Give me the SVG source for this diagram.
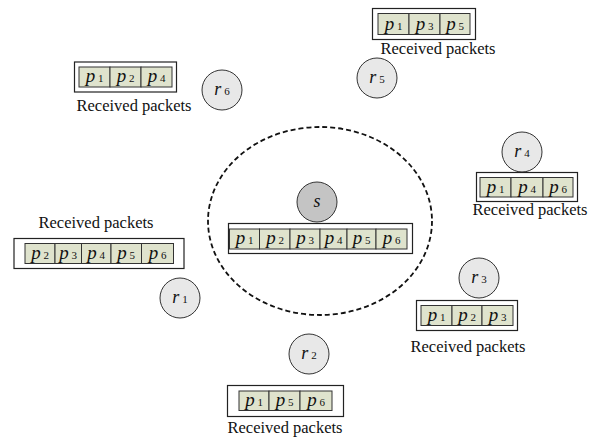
<svg xmlns="http://www.w3.org/2000/svg" width="591" height="439" viewBox="0 0 591 439">
<style>
.outer{fill:#fff;stroke:#222;stroke-width:1.2}
.cell{fill:#dfe3cd;stroke:#333;stroke-width:1}
.node{fill:#e8e8e8;stroke:#333;stroke-width:1}
.src{fill:#c4c4c4;stroke:#333;stroke-width:1}
.pk{font-family:"Liberation Serif",serif;font-size:19px;fill:#111;text-anchor:middle}
.it{font-style:italic}
.sub{font-size:11px;font-style:normal}
.lbl{font-family:"Liberation Serif",serif;font-size:16.5px;fill:#111;text-anchor:middle}
.nl{font-family:"Liberation Serif",serif;font-size:18px;fill:#111;text-anchor:middle}
.ring{fill:none;stroke:#111;stroke-width:1.8;stroke-dasharray:5 3}
</style>
<rect width="591" height="439" fill="#fff"/>
<g id="connectors"/>
<g id="range">
<ellipse class="ring" cx="320" cy="221" rx="112" ry="94"/>
</g>
<g id="s">
<circle class="src" cx="317" cy="202" r="20"/>
<text class="nl it" x="317" y="207">s</text>
<rect class="outer" x="228.5" y="223.5" width="184" height="30"/>
<rect class="cell" x="229.5" y="229" width="30" height="20"/>
<rect class="cell" x="259.5" y="229" width="30.5" height="20"/>
<rect class="cell" x="290" y="229" width="30" height="20"/>
<rect class="cell" x="320" y="229" width="27" height="20"/>
<rect class="cell" x="347" y="229" width="29" height="20"/>
<rect class="cell" x="376" y="229" width="31" height="20"/>
<text class="pk" x="244.5" y="244"><tspan class="it">p</tspan><tspan class="sub"> 1</tspan></text>
<text class="pk" x="275" y="244"><tspan class="it">p</tspan><tspan class="sub"> 2</tspan></text>
<text class="pk" x="305" y="244"><tspan class="it">p</tspan><tspan class="sub"> 3</tspan></text>
<text class="pk" x="333.5" y="244"><tspan class="it">p</tspan><tspan class="sub"> 4</tspan></text>
<text class="pk" x="361.5" y="244"><tspan class="it">p</tspan><tspan class="sub"> 5</tspan></text>
<text class="pk" x="391.5" y="244"><tspan class="it">p</tspan><tspan class="sub"> 6</tspan></text>
</g>
<g id="r5">
<rect class="outer" x="372.5" y="8.5" width="103" height="31"/>
<rect class="cell" x="378" y="13.5" width="31" height="21"/>
<rect class="cell" x="409" y="13.5" width="31" height="21"/>
<rect class="cell" x="440" y="13.5" width="30" height="21"/>
<text class="pk" x="393.5" y="29.5"><tspan class="it">p</tspan><tspan class="sub"> 1</tspan></text>
<text class="pk" x="424.5" y="29.5"><tspan class="it">p</tspan><tspan class="sub"> 3</tspan></text>
<text class="pk" x="455" y="29.5"><tspan class="it">p</tspan><tspan class="sub"> 5</tspan></text>
<text class="lbl" x="438" y="54">Received packets</text>
<circle class="node" cx="377" cy="78" r="20"/>
<text class="nl" x="377" y="83"><tspan class="it">r</tspan><tspan class="sub"> 5</tspan></text>
</g>
<g id="r6">
<rect class="outer" x="74.5" y="62" width="102" height="30"/>
<rect class="cell" x="79" y="67" width="31" height="20"/>
<rect class="cell" x="110" y="67" width="31" height="20"/>
<rect class="cell" x="141" y="67" width="31" height="20"/>
<text class="pk" x="94.5" y="82"><tspan class="it">p</tspan><tspan class="sub"> 1</tspan></text>
<text class="pk" x="125.5" y="82"><tspan class="it">p</tspan><tspan class="sub"> 2</tspan></text>
<text class="pk" x="156.5" y="82"><tspan class="it">p</tspan><tspan class="sub"> 4</tspan></text>
<text class="lbl" x="134" y="111">Received packets</text>
<circle class="node" cx="222" cy="90" r="20"/>
<text class="nl" x="222" y="95"><tspan class="it">r</tspan><tspan class="sub"> 6</tspan></text>
</g>
<g id="r4">
<circle class="node" cx="522" cy="152" r="20"/>
<text class="nl" x="522" y="157"><tspan class="it">r</tspan><tspan class="sub"> 4</tspan></text>
<rect class="outer" x="476.5" y="172.5" width="101" height="29"/>
<rect class="cell" x="480" y="177.5" width="31" height="19.5"/>
<rect class="cell" x="511" y="177.5" width="32" height="19.5"/>
<rect class="cell" x="543" y="177.5" width="30" height="19.5"/>
<text class="pk" x="495.5" y="192.5"><tspan class="it">p</tspan><tspan class="sub"> 1</tspan></text>
<text class="pk" x="527" y="192.5"><tspan class="it">p</tspan><tspan class="sub"> 4</tspan></text>
<text class="pk" x="558" y="192.5"><tspan class="it">p</tspan><tspan class="sub"> 6</tspan></text>
<text class="lbl" x="530" y="215">Received packets</text>
</g>
<g id="r3">
<circle class="node" cx="479" cy="278" r="20"/>
<text class="nl" x="479" y="283"><tspan class="it">r</tspan><tspan class="sub"> 3</tspan></text>
<rect class="outer" x="416.5" y="300.5" width="101" height="30"/>
<rect class="cell" x="421" y="305.5" width="31" height="20"/>
<rect class="cell" x="452" y="305.5" width="30" height="20"/>
<rect class="cell" x="482" y="305.5" width="31" height="20"/>
<text class="pk" x="436.5" y="320.5"><tspan class="it">p</tspan><tspan class="sub"> 1</tspan></text>
<text class="pk" x="467" y="320.5"><tspan class="it">p</tspan><tspan class="sub"> 2</tspan></text>
<text class="pk" x="497.5" y="320.5"><tspan class="it">p</tspan><tspan class="sub"> 3</tspan></text>
<text class="lbl" x="468" y="352">Received packets</text>
</g>
<g id="r2">
<circle class="node" cx="309" cy="354" r="20"/>
<text class="nl" x="309" y="359"><tspan class="it">r</tspan><tspan class="sub"> 2</tspan></text>
<rect class="outer" x="227.5" y="385.5" width="116" height="31"/>
<rect class="cell" x="239" y="391" width="30" height="19.5"/>
<rect class="cell" x="269" y="391" width="31" height="19.5"/>
<rect class="cell" x="300" y="391" width="32" height="19.5"/>
<text class="pk" x="254" y="406"><tspan class="it">p</tspan><tspan class="sub"> 1</tspan></text>
<text class="pk" x="284.5" y="406"><tspan class="it">p</tspan><tspan class="sub"> 5</tspan></text>
<text class="pk" x="316" y="406"><tspan class="it">p</tspan><tspan class="sub"> 6</tspan></text>
<text class="lbl" x="285" y="433">Received packets</text>
</g>
<g id="r1">
<text class="lbl" x="96" y="228">Received packets</text>
<rect class="outer" x="14" y="238.5" width="170" height="30"/>
<rect class="cell" x="25" y="243.5" width="30" height="20"/>
<rect class="cell" x="55" y="243.5" width="26.5" height="20"/>
<rect class="cell" x="81.5" y="243.5" width="29.5" height="20"/>
<rect class="cell" x="111" y="243.5" width="30.5" height="20"/>
<rect class="cell" x="141.5" y="243.5" width="32" height="20"/>
<text class="pk" x="40" y="258.5"><tspan class="it">p</tspan><tspan class="sub"> 2</tspan></text>
<text class="pk" x="68" y="258.5"><tspan class="it">p</tspan><tspan class="sub"> 3</tspan></text>
<text class="pk" x="96" y="258.5"><tspan class="it">p</tspan><tspan class="sub"> 4</tspan></text>
<text class="pk" x="126" y="258.5"><tspan class="it">p</tspan><tspan class="sub"> 5</tspan></text>
<text class="pk" x="157.5" y="258.5"><tspan class="it">p</tspan><tspan class="sub"> 6</tspan></text>
<circle class="node" cx="180" cy="298" r="20"/>
<text class="nl" x="180" y="303"><tspan class="it">r</tspan><tspan class="sub"> 1</tspan></text>
</g>
</svg>
